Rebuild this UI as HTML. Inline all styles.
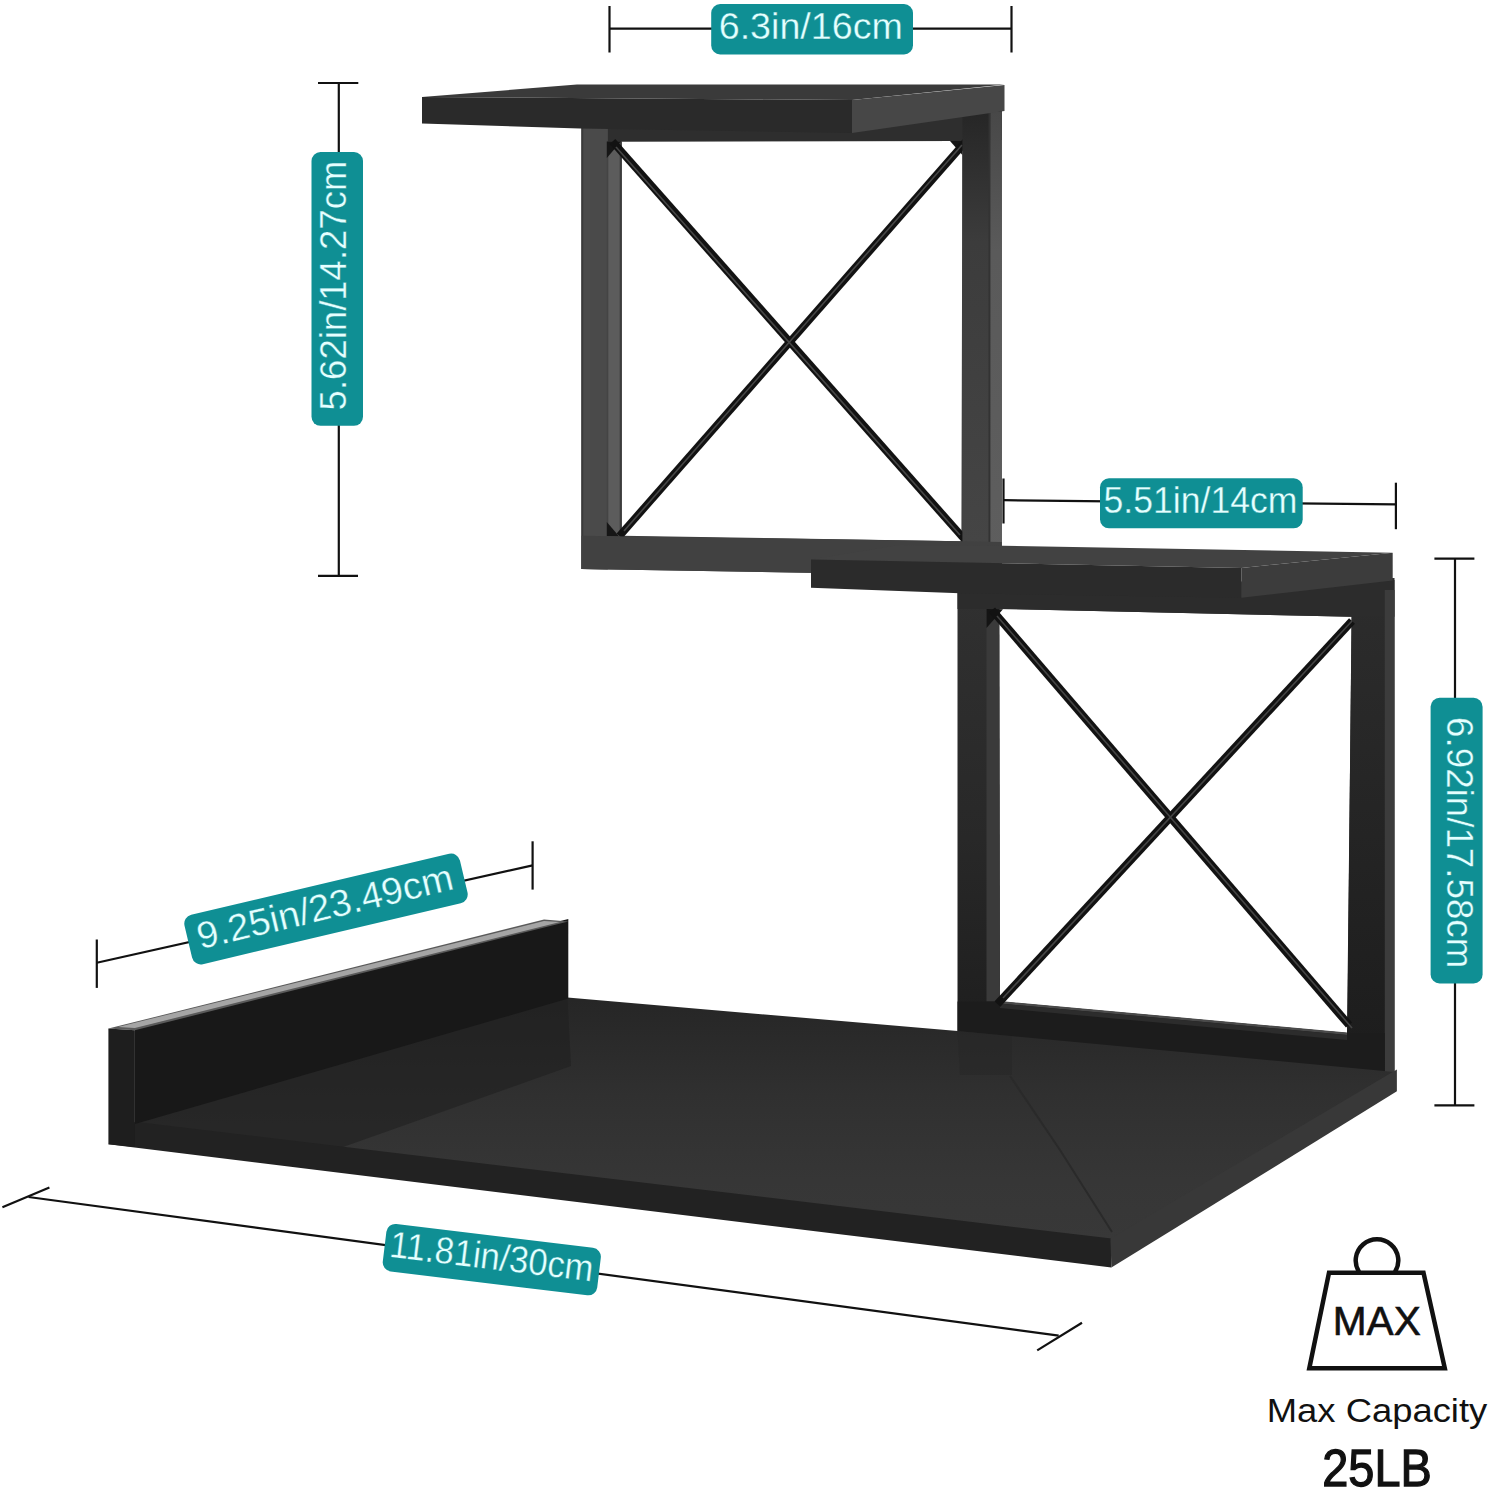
<!DOCTYPE html>
<html><head><meta charset="utf-8">
<style>
html,body{margin:0;padding:0;background:#fff;}
body{width:1490px;height:1489px;overflow:hidden;position:relative;}
svg{position:absolute;left:0;top:0;display:block;}
text{font-family:"Liberation Sans",sans-serif;}
</style></head>
<body>
<svg width="1490" height="1489" viewBox="0 0 1490 1489">
<defs>
  <linearGradient id="f2g" x1="0" y1="0" x2="0" y2="1">
    <stop offset="0" stop-color="#444"/>
    <stop offset="0.6" stop-color="#333"/>
    <stop offset="1" stop-color="#1c1c1c"/>
  </linearGradient>
  <linearGradient id="baseg" gradientUnits="userSpaceOnUse" x1="0" y1="1000" x2="0" y2="1240">
    <stop offset="0" stop-color="#262626"/>
    <stop offset="0.4" stop-color="#303030"/>
    <stop offset="0.75" stop-color="#363636"/>
    <stop offset="1" stop-color="#383838"/>
  </linearGradient>
  <linearGradient id="f1r" gradientUnits="userSpaceOnUse" x1="0" y1="112" x2="0" y2="576">
    <stop offset="0" stop-color="#262626"/>
    <stop offset="0.28" stop-color="#3c3c3c"/>
    <stop offset="1" stop-color="#464646"/>
  </linearGradient>
  <linearGradient id="f1rs" gradientUnits="userSpaceOnUse" x1="0" y1="112" x2="0" y2="576">
    <stop offset="0" stop-color="#484848"/>
    <stop offset="0.3" stop-color="#5a5a5a"/>
    <stop offset="1" stop-color="#5e5e5e"/>
  </linearGradient>
  <linearGradient id="f2l" gradientUnits="userSpaceOnUse" x1="0" y1="600" x2="0" y2="1033">
    <stop offset="0" stop-color="#303030"/>
    <stop offset="0.55" stop-color="#282828"/>
    <stop offset="1" stop-color="#1e1e1e"/>
  </linearGradient>
  <linearGradient id="f2r" gradientUnits="userSpaceOnUse" x1="0" y1="600" x2="0" y2="1072">
    <stop offset="0" stop-color="#2c2c2c"/>
    <stop offset="1" stop-color="#1c1c1c"/>
  </linearGradient>
</defs>

<!-- ============ dimension lines ============ -->
<g stroke="#111" stroke-width="2.2" fill="none" stroke-linecap="butt">
  <!-- top 6.3in -->
  <line x1="609.5" y1="28.6" x2="1011.5" y2="28.6"/>
  <line x1="609.5" y1="6" x2="609.5" y2="52.5"/>
  <line x1="1011.5" y1="6" x2="1011.5" y2="52.5"/>
  <!-- left vertical 5.62 -->
  <line x1="338.8" y1="83" x2="338.8" y2="575.8"/>
  <line x1="318" y1="83" x2="358.3" y2="83"/>
  <line x1="318" y1="575.8" x2="358" y2="575.8"/>
  <!-- 5.51 -->
  <line x1="1003.5" y1="500.2" x2="1395.9" y2="504.4"/>
  <line x1="1003.5" y1="478.5" x2="1003.5" y2="523.5"/>
  <line x1="1395.9" y1="482.7" x2="1395.9" y2="529.2"/>
  <!-- right vertical 6.92 -->
  <line x1="1455" y1="558.7" x2="1455" y2="1105.4"/>
  <line x1="1434.4" y1="558.7" x2="1474.4" y2="558.7"/>
  <line x1="1434.4" y1="1105.4" x2="1474.4" y2="1105.4"/>
  <!-- 9.25 diagonal -->
  <line x1="96.8" y1="962.7" x2="532.6" y2="865.4"/>
  <line x1="96.8" y1="939.5" x2="96.8" y2="987.9"/>
  <line x1="532.6" y1="841.3" x2="532.6" y2="889.6"/>
  <!-- 11.81 -->
  <line x1="28.5" y1="1197" x2="1058.7" y2="1335.6"/>
  <line x1="2.4" y1="1207.2" x2="49.4" y2="1187.4"/>
  <line x1="1037.2" y1="1350.4" x2="1082" y2="1322.7"/>
</g>

<!-- ============ frame 1 (top unit) ============ -->
<g>
  <!-- braces -->
  <!-- frame body with hole -->
  <path fill="#3f3f3f" fill-rule="evenodd" d="M581.5 124 L1001.8 108 L1001.8 576 L581.5 569 Z M621.7 141.4 L962.4 140.9 L961.4 541.3 L621.7 535.7 Z"/>
  <!-- left leg front face / inner strip -->
  <polygon fill="#5c5c5c" points="607.8,141.4 621.7,141.4 621.7,536 607.8,536"/>
  <polygon fill="#3c3c3c" points="619.7,141.4 621.7,141.4 621.7,536 619.7,536"/>
  <!-- top bar -->
  <polygon fill="#2e2e2e" points="607.8,126 1001.8,110 1001.8,140 962.4,140.9 621.7,141.4 607.8,141.4"/>
  <polygon fill="#4a4a4a" points="581.5,124 607.8,124 607.8,569.5 581.5,569"/>
  <polygon fill="#3a3a3a" points="581.5,124 583.2,124 583.2,569 581.5,569"/>
  <polygon fill="#444" points="606.8,141.4 608.3,141.4 608.3,536 606.8,536"/>
  <polygon fill="#161616" points="606.8,141.4 621,141.4 606.8,158"/>
  <polygon fill="#161616" points="606.8,536 606.8,522 619,536.2"/>
  <polygon fill="#161616" points="962.4,140.9 950,141 962.4,155"/>
  <g stroke="#121212" stroke-width="7.6" stroke-linecap="butt">
    <line x1="612.5" y1="141.5" x2="966" y2="541"/>
    <line x1="968" y1="139" x2="619.5" y2="536"/>
  </g>
  <g stroke="#464646" stroke-width="1.6" stroke-linecap="butt">
    <line x1="616" y1="147" x2="960" y2="535"/>
    <line x1="962" y1="145" x2="624" y2="531"/>
  </g>
  <!-- right leg -->
  <polygon fill="url(#f1r)" points="962.4,112 990.5,112 990.5,576 962.4,575"/>
  <polygon fill="#333" points="988.5,112 990.5,112 990.5,576 988.5,576"/>
  <polygon fill="url(#f1rs)" points="990.5,112 1001.8,112 1001.8,576 990.5,576"/>
  <!-- bottom bar -->
  <polygon fill="#414141" points="581.5,535.7 961.4,541.3 1001.8,542 1001.8,576 581.5,569"/>
</g>

<!-- ============ shelf 1 ============ -->
<g>
  <polygon fill="#3a3a3a" points="422,97 577,84.5 1004.5,84.5 852,100"/>
  <polygon fill="#2a2a2a" points="422,97 852,100 852,133 580,128.5 422,123.5"/>
  <polygon fill="#474747" points="852,100 1004.5,85 1004.5,111 852,133"/>
</g>

<!-- ============ frame 2 ============ -->
<g>
  <path fill="url(#f2l)" fill-rule="evenodd" d="M957.5 588 L1394.5 578 L1394.5 1072.8 L957.5 1033 Z M999 608.9 L1351.7 616.7 L1347 1033 L1000 1001.5 Z"/>
  <polygon fill="url(#f2r)" points="1351.7,600 1384.8,600 1384.8,1072 1347,1072"/>
  <polygon fill="#3a3a3a" points="986.5,609 999.5,609 1000,1001.5 986.5,1001.5"/>
  <polygon fill="#2c2c2c" points="957.5,590 1394.5,580 1394.5,616.7 1351.7,616.7 999,608.9 957.5,608.9"/>
  <polygon fill="#3c3c3c" points="1384.8,590 1394.5,590 1394.5,1072.8 1384.8,1072"/>
  <polygon fill="#1c1c1c" points="957.5,1001.5 1000,1001.5 1347,1033 1384.8,1033 1384.8,1072 957.5,1033"/>
  <polygon fill="#4a4a4a" points="1000,1001 1347,1032.5 1347,1035 1000,1003.5"/>
  <polygon fill="#2c2c2c" points="1000,1003.5 1347,1035 1347,1040 1000,1008"/>
  <polygon fill="#141414" points="986.5,609 1003,609.3 986.5,628"/>
  <g stroke="#121212" stroke-width="8" stroke-linecap="butt">
    <line x1="992" y1="610" x2="1349" y2="1025"/>
    <line x1="1352" y1="621" x2="997.5" y2="1004"/>
  </g>
  <g stroke="#444" stroke-width="1.6" stroke-linecap="butt">
    <line x1="997" y1="616" x2="1352" y2="1028"/>
    <line x1="1352" y1="621" x2="1003" y2="998"/>
  </g>
</g>

<!-- ============ shelf 2 ============ -->
<g>
  <polygon fill="#424242" points="811,559.5 900,545 1003,545.7 1392.7,552.7 1241.3,567.9"/>
  <polygon fill="#2b2b2b" points="811,559.5 1241.3,567.9 1241.3,597.8 960,593.3 811,587.7"/>
  <polygon fill="#3c3c3c" points="1241.3,567.9 1392.7,552.7 1392.7,580.5 1241.3,597.8"/>
</g>

<!-- ============ base ============ -->
<g>
  <!-- top surface -->
  <polygon fill="url(#baseg)" points="134.9,1122.8 567.4,997.5 957.5,1031 1394.3,1072 1396.9,1070.5 1111.4,1239.6"/>
  <!-- wall shadow on surface -->
  <polygon fill="#1f1f1f" opacity="0.6" points="134.9,1122.8 567.4,997.5 571,1066 341,1147.7"/>
  <!-- leg shadow band -->
  <polygon fill="#262626" opacity="0.45" points="957.5,1031 1012,1036 1012,1075 960,1075"/>
  <polyline fill="none" stroke="#2a2a2a" stroke-width="2" points="1010,1076 1060,1150 1112,1232"/>
  <!-- front face -->
  <polygon fill="#222" points="134.9,1121.8 1111.4,1238.6 1111.4,1267.6 108.3,1144.3"/>
  <!-- right side face -->
  <polygon fill="#383838" points="1110.4,1238.6 1396.9,1069.5 1396.9,1091.3 1111.4,1267.6"/>
  <!-- wall inner face -->
  <polygon fill="#181818" points="134.9,1026 568.3,919 568.3,998.5 134.9,1124"/>
  <!-- wall top strip -->
  <polygon fill="#5a5a5a" points="108.4,1028.6 544,919.5 568.3,921.4 134.9,1030.3"/>
  <polygon fill="#a5a5a5" points="118,1027 544,921 560,922 134.9,1028"/>
  <!-- wall front end -->
  <polygon fill="#1e1e1e" points="108.4,1028.6 134.9,1030.3 134.9,1147 108.4,1144.3"/>
</g>

<!-- ============ labels ============ -->
<g fill="#0f8f94">
  <rect x="711.2" y="4" width="201.8" height="50.5" rx="9"/>
  <rect x="311.5" y="152" width="51.5" height="273.8" rx="9"/>
  <rect x="1100" y="478.3" width="202.7" height="50" rx="9"/>
  <rect x="1430.6" y="697.8" width="52" height="285.7" rx="9"/>
  <rect x="-141.5" y="-25.35" width="283" height="50.7" rx="9" transform="translate(326 909) rotate(-13.3)"/>
  <rect x="-108" y="-23.9" width="216" height="47.8" rx="9" transform="translate(491.8 1259.6) rotate(6.91)"/>
</g>
<g fill="#e4ffff" font-size="37.6" stroke="#0f8f94" stroke-width="0.35" text-anchor="middle" lengthAdjust="spacingAndGlyphs">
  <text x="810.8" y="38.8" textLength="184.2" lengthAdjust="spacingAndGlyphs">6.3in/16cm</text>
  <text x="0" y="0" textLength="249.8" lengthAdjust="spacingAndGlyphs" transform="translate(346.2 285.5) rotate(-90)">5.62in/14.27cm</text>
  <text x="1200.5" y="513.3" textLength="193.9" lengthAdjust="spacingAndGlyphs">5.51in/14cm</text>
  <text x="0" y="0" textLength="251.2" lengthAdjust="spacingAndGlyphs" transform="translate(1447.2 842.7) rotate(90)">6.92in/17.58cm</text>
  <text x="-0.6" y="10.3" textLength="262.1" lengthAdjust="spacingAndGlyphs" transform="translate(326 909) rotate(-13.3)">9.25in/23.49cm</text>
  <text x="-0.5" y="9.7" textLength="205" lengthAdjust="spacingAndGlyphs" transform="translate(491.8 1259.6) rotate(6.91)">11.81in/30cm</text>
</g>

<!-- ============ MAX weight icon ============ -->
<g fill="none" stroke="#111" stroke-width="4.5">
  <path d="M1359 1272 A21.3 21.3 0 1 1 1395 1272"/>
  <polygon points="1329,1272.8 1423.5,1272.8 1444.8,1368.2 1309.3,1368.2" stroke-linejoin="miter"/>
</g>
<g fill="#111">
  <text x="1376.8" y="1334.8" text-anchor="middle" font-size="40" textLength="88" lengthAdjust="spacingAndGlyphs" stroke="#111" stroke-width="0.6">MAX</text>
  <text x="1377" y="1422" text-anchor="middle" font-size="34" textLength="220.5" lengthAdjust="spacingAndGlyphs">Max Capacity</text>
  <text x="1377" y="1486" text-anchor="middle" font-size="52" textLength="109.5" lengthAdjust="spacingAndGlyphs" stroke="#111" stroke-width="1.3">25LB</text>
</g>
</svg>
</body></html>
